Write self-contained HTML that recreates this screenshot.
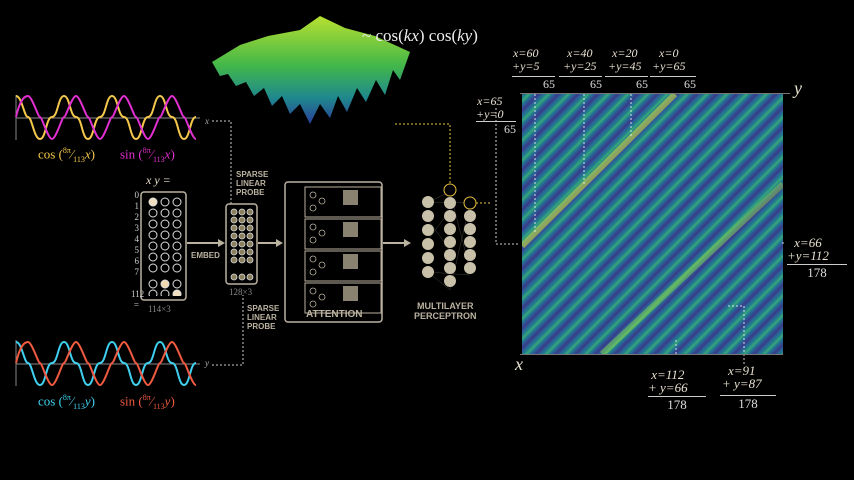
<!DOCTYPE html>
<html><head><meta charset="utf-8"><style>
body{margin:0;background:#000;width:854px;height:480px;overflow:hidden;position:relative;font-family:"Liberation Serif",serif;color:#ddd}
.a{position:absolute}
.sf{font-family:"Liberation Sans",sans-serif;font-weight:bold;color:#bbb2a0;font-size:8px;line-height:9px}
.lab{font-size:12px;color:#e8e0d0;text-align:center;line-height:13px;font-style:italic}
.hm{left:522px;top:94px;width:261px;height:260px;background:repeating-linear-gradient(135deg,#2b5e96 0px,#21808d 3px,#3aa878 5px,#21808d 7px,#2b5e96 9px,#3a3a88 12px,#2b5e96 14px)}
</style></head><body>
<svg class="a" style="left:0;top:0" width="854" height="480">
<defs><linearGradient id="sg" x1="0" y1="0" x2="0" y2="1"><stop offset="0" stop-color="#b8e030"/><stop offset="0.45" stop-color="#44b848"/><stop offset="0.75" stop-color="#1f8a8c"/><stop offset="1" stop-color="#2a3f9a"/></linearGradient></defs>
<polygon points="212,62 240,45 268,36 300,30 320,16 345,28 375,36 410,52 400,80 393,70 385,95 376,80 366,102 357,88 347,112 338,96 330,118 320,104 310,124 300,104 290,114 282,96 272,106 264,88 254,96 246,82 236,86 228,74 220,76" fill="url(#sg)"/>
<line x1="16" y1="118" x2="200" y2="118" stroke="#888" stroke-width="1"/>
<line x1="16" y1="95" x2="16" y2="140" stroke="#888"/>
<path fill="none" stroke="#f4c84a" stroke-width="2" d="M16,96 C22,96 24,117 28,117 S34,139 40,139 S46,117 52,117 S58,96 64,96 S70,117 76,117 S82,139 88,139 S94,117 100,117 S106,96 112,96 S118,117 124,117 S130,139 136,139 S142,117 148,117 S154,96 160,96 S166,117 172,117 S178,139 184,139 S190,117 196,117"/>
<path fill="none" stroke="#e030d0" stroke-width="2" d="M16,117 C20,100 24,96 28,96 S38,117 40,117 S48,139 52,139 S62,117 64,117 S72,96 76,96 S86,117 88,117 S96,139 100,139 S110,117 112,117 S120,96 124,96 S134,117 136,117 S144,139 148,139 S158,117 160,117 S168,96 172,96 S182,117 184,117 S192,139 196,139"/>
<line x1="16" y1="364" x2="200" y2="364" stroke="#888"/>
<line x1="16" y1="340" x2="16" y2="386" stroke="#888"/>
<path fill="none" stroke="#40d0f0" stroke-width="2" d="M16,342 C22,342 24,363 28,363 S34,385 40,385 S46,363 52,363 S58,342 64,342 S70,363 76,363 S82,385 88,385 S94,363 100,363 S106,342 112,342 S118,363 124,363 S130,385 136,385 S142,363 148,363 S154,342 160,342 S166,363 172,363 S178,385 184,385 S190,363 196,363"/>
<path fill="none" stroke="#f05a40" stroke-width="2" d="M16,363 C20,346 24,342 28,342 S38,363 40,363 S48,385 52,385 S62,363 64,363 S72,342 76,342 S86,363 88,363 S96,385 100,385 S110,363 112,363 S120,342 124,342 S134,363 136,363 S144,385 148,385 S158,363 160,363 S168,342 172,342 S182,363 184,363 S192,385 196,385"/>
<path d="M212,121 H231 V205" fill="none" stroke="#ccc" stroke-dasharray="2,2"/>
<path d="M212,365 H243 V295" fill="none" stroke="#ccc" stroke-dasharray="2,2"/>
<path d="M395,124 H450 V185" fill="none" stroke="#e8c040" stroke-dasharray="2,2"/>
<path d="M496,108 V244 H520" fill="none" stroke="#ccc" stroke-dasharray="2,2"/>
<path d="M476,203 H490" fill="none" stroke="#e8c040" stroke-dasharray="2,2"/>
<rect x="141" y="192" width="45" height="108" rx="3" fill="none" stroke="#bbb2a0" stroke-width="1.5"/>
<rect x="226" y="204" width="31" height="80" rx="3" fill="none" stroke="#bbb2a0" stroke-width="1.5"/>
<rect x="285" y="182" width="97" height="140" rx="3" fill="none" stroke="#bbb2a0" stroke-width="1.5"/>
<g fill="none" stroke="#bbb2a0"><rect x="305" y="187" width="76" height="30"/><rect x="305" y="219" width="76" height="30"/><rect x="305" y="251" width="76" height="30"/><rect x="305" y="283" width="76" height="30"/></g>
<g fill="#8a8270"><rect x="343" y="190" width="15" height="15"/><rect x="343" y="222" width="15" height="15"/><rect x="343" y="254" width="15" height="15"/><rect x="343" y="286" width="15" height="15"/></g>
<g fill="none" stroke="#bbb2a0" stroke-width="0.8"><circle cx="313" cy="195" r="3"/><circle cx="322" cy="201" r="3"/><circle cx="313" cy="208" r="3"/><circle cx="313" cy="227" r="3"/><circle cx="322" cy="233" r="3"/><circle cx="313" cy="240" r="3"/><circle cx="313" cy="259" r="3"/><circle cx="322" cy="265" r="3"/><circle cx="313" cy="272" r="3"/><circle cx="313" cy="291" r="3"/><circle cx="322" cy="297" r="3"/><circle cx="313" cy="304" r="3"/></g>
<g stroke="#bbb2a0" stroke-width="2" fill="#bbb2a0"><line x1="187" y1="243" x2="220" y2="243"/><polygon points="225,243 218,239 218,247" stroke="none"/><line x1="258" y1="243" x2="278" y2="243"/><polygon points="283,243 276,239 276,247" stroke="none"/><line x1="383" y1="243" x2="406" y2="243"/><polygon points="411,243 404,239 404,247" stroke="none"/></g>
<g stroke="#bbb2a0" stroke-width="0.3" opacity="0.6">
<path d="M428,202 L450,192 M428,202 L470,203 M428,272 L450,290 M428,272 L470,275 M450,192 L470,270 M450,290 L470,203 M428,220 L450,250 M428,240 L450,210"/></g>
<g fill="#c8c0a8"><circle cx="428" cy="202" r="6"/><circle cx="428" cy="216" r="6"/><circle cx="428" cy="230" r="6"/><circle cx="428" cy="244" r="6"/><circle cx="428" cy="258" r="6"/><circle cx="428" cy="272" r="6"/>
<circle cx="450" cy="203" r="6"/><circle cx="450" cy="216" r="6"/><circle cx="450" cy="229" r="6"/><circle cx="450" cy="242" r="6"/><circle cx="450" cy="255" r="6"/><circle cx="450" cy="268" r="6"/><circle cx="450" cy="281" r="6"/>
<circle cx="470" cy="216" r="6"/><circle cx="470" cy="229" r="6"/><circle cx="470" cy="242" r="6"/><circle cx="470" cy="255" r="6"/><circle cx="470" cy="268" r="6"/></g>
<circle cx="450" cy="190" r="6" fill="#000" stroke="#e8c040"/><circle cx="470" cy="203" r="6" fill="#000" stroke="#e8c040"/>
</svg>
<div class="a" style="left:145px;top:196px;width:40px">
<svg width="40" height="100"><g fill="none" stroke="#ddd"><circle cx="8" cy="6" r="4" fill="#f0e0c0"/><circle cx="20" cy="6" r="4"/><circle cx="32" cy="6" r="4"/>
<circle cx="8" cy="17" r="4"/><circle cx="20" cy="17" r="4"/><circle cx="32" cy="17" r="4"/><circle cx="8" cy="28" r="4"/><circle cx="20" cy="28" r="4"/><circle cx="32" cy="28" r="4"/><circle cx="8" cy="39" r="4"/><circle cx="20" cy="39" r="4"/><circle cx="32" cy="39" r="4"/><circle cx="8" cy="50" r="4"/><circle cx="20" cy="50" r="4"/><circle cx="32" cy="50" r="4"/><circle cx="8" cy="61" r="4"/><circle cx="20" cy="61" r="4"/><circle cx="32" cy="61" r="4"/><circle cx="8" cy="72" r="4"/><circle cx="20" cy="72" r="4"/><circle cx="32" cy="72" r="4"/>
<circle cx="8" cy="88" r="4"/><circle cx="20" cy="88" r="4" fill="#f0d8b0"/><circle cx="32" cy="88" r="4"/><circle cx="8" cy="98" r="4"/><circle cx="20" cy="98" r="4"/><circle cx="32" cy="98" r="4" fill="#f0e0c0"/></g></svg></div>
<div class="a" style="left:229px;top:207px"><svg width="26" height="76"><g fill="#8a8060" stroke="#ddd" stroke-width="0.8"><circle cx="5" cy="5" r="3"/><circle cx="13" cy="5" r="3"/><circle cx="21" cy="5" r="3"/><circle cx="5" cy="13" r="3"/><circle cx="13" cy="13" r="3"/><circle cx="21" cy="13" r="3"/><circle cx="5" cy="21" r="3"/><circle cx="13" cy="21" r="3"/><circle cx="21" cy="21" r="3"/><circle cx="5" cy="29" r="3"/><circle cx="13" cy="29" r="3"/><circle cx="21" cy="29" r="3"/><circle cx="5" cy="37" r="3"/><circle cx="13" cy="37" r="3"/><circle cx="21" cy="37" r="3"/><circle cx="5" cy="45" r="3"/><circle cx="13" cy="45" r="3"/><circle cx="21" cy="45" r="3"/><circle cx="5" cy="53" r="3"/><circle cx="13" cy="53" r="3"/><circle cx="21" cy="53" r="3"/><circle cx="5" cy="70" r="3"/><circle cx="13" cy="70" r="3"/><circle cx="21" cy="70" r="3"/></g></svg></div>
<div class="a" style="left:131px;top:190px;font-size:9px;line-height:11px;color:#ccc;text-align:right;width:8px">0<br>1<br>2<br>3<br>4<br>5<br>6<br>7<br><br>112<br>=</div>
<div class="a lab" style="left:146px;top:174px">x y =</div>
<div class="a" style="left:148px;top:304px;font-size:9px;color:#888">114×3</div>
<div class="a" style="left:229px;top:287px;font-size:9px;color:#888">128×3</div>
<div class="a sf" style="left:236px;top:170px">SPARSE<br>LINEAR<br>PROBE</div>
<div class="a sf" style="left:247px;top:304px">SPARSE<br>LINEAR<br>PROBE</div>
<div class="a sf" style="left:191px;top:251px">EMBED</div>
<div class="a sf" style="left:306px;top:310px;font-size:10px">ATTENTION</div>
<div class="a sf" style="left:414px;top:301px;font-size:9px;text-align:center;line-height:10px">MULTILAYER<br>PERCEPTRON</div>
<div class="a" style="left:38px;top:146px;color:#f4c84a;font-size:13px">cos (<sup style="font-size:8px">8π</sup>⁄<sub style="font-size:8px">113</sub><i>x</i>)</div>
<div class="a" style="left:120px;top:146px;color:#e030d0;font-size:13px">sin (<sup style="font-size:8px">8π</sup>⁄<sub style="font-size:8px">113</sub><i>x</i>)</div>
<div class="a" style="left:38px;top:393px;color:#40d0f0;font-size:13px">cos (<sup style="font-size:8px">8π</sup>⁄<sub style="font-size:8px">113</sub><i>y</i>)</div>
<div class="a" style="left:120px;top:393px;color:#f05a40;font-size:13px">sin (<sup style="font-size:8px">8π</sup>⁄<sub style="font-size:8px">113</sub><i>y</i>)</div>
<div class="a" style="left:205px;top:116px;font-size:9px;font-style:italic;color:#aaa">x</div>
<div class="a" style="left:205px;top:358px;font-size:9px;font-style:italic;color:#aaa">y</div>
<div class="a" style="left:362px;top:26px;font-size:17px;color:#eee">~ cos(<i>kx</i>) cos(<i>ky</i>)</div>
<div class="a hm"></div>
<svg class="a" style="left:522px;top:94px" width="261" height="260">
<line x1="0" y1="152" x2="153" y2="0" stroke="#c8e040" stroke-width="6" opacity="0.6"/>
<line x1="80" y1="260" x2="261" y2="90" stroke="#9cd848" stroke-width="6" opacity="0.45"/>
<g stroke="#fff" stroke-dasharray="2,2" opacity="0.8"><line x1="13" y1="-40" x2="13" y2="140"/><line x1="62" y1="-40" x2="62" y2="90"/><line x1="109" y1="-40" x2="109" y2="43"/><line x1="153" y1="-20" x2="153" y2="0"/></g>
</svg>
<svg class="a" style="left:600px;top:240px" width="200" height="140"><g fill="none" stroke="#fff" stroke-dasharray="2,2" opacity="0.8"><path d="M128,66 H144 V125"/><path d="M76,100 V115"/><path d="M183,4 V0"/></g></svg>
<div class="a" style="left:520px;top:354px;width:263px;height:1px;background:#777"></div>
<div class="a" style="left:520px;top:93px;width:270px;height:1px;background:#777"></div>
<div class="a lab" style="left:794px;top:82px;font-size:18px">y</div>
<div class="a lab" style="left:515px;top:358px;font-size:18px">x</div>
<div class="a lab" style="left:512px;top:47px">x=60<br>+y=5</div>
<div class="a lab" style="left:563px;top:47px">x=40<br>+y=25</div>
<div class="a lab" style="left:608px;top:47px">x=20<br>+y=45</div>
<div class="a lab" style="left:652px;top:47px">x=0<br>+y=65</div>
<div class="a" style="left:512px;top:76px;width:43px;border-top:1px solid #ccc;font-size:12px;color:#ddd;text-align:right">65</div>
<div class="a" style="left:559px;top:76px;width:43px;border-top:1px solid #ccc;font-size:12px;color:#ddd;text-align:right">65</div>
<div class="a" style="left:605px;top:76px;width:43px;border-top:1px solid #ccc;font-size:12px;color:#ddd;text-align:right">65</div>
<div class="a" style="left:650px;top:76px;width:46px;border-top:1px solid #ccc;font-size:12px;color:#ddd;text-align:right">65</div>
<div class="a lab" style="left:476px;top:95px">x=65<br>+y=0</div>
<div class="a" style="left:476px;top:121px;width:40px;border-top:1px solid #ccc;font-size:12px;color:#ddd;text-align:right">65</div>
<div class="a lab" style="left:787px;top:236px;font-size:13px">x=66<br>+y=112</div>
<div class="a" style="left:787px;top:264px;width:60px;border-top:1px solid #ccc;font-size:13px;color:#ddd;text-align:center">178</div>
<div class="a lab" style="left:648px;top:368px;font-size:13px">x=112<br>+ y=66</div>
<div class="a" style="left:648px;top:396px;width:58px;border-top:1px solid #ccc;font-size:13px;color:#ddd;text-align:center">178</div>
<div class="a lab" style="left:722px;top:364px;font-size:13px">x=91<br>+ y=87</div>
<div class="a" style="left:720px;top:395px;width:56px;border-top:1px solid #ccc;font-size:13px;color:#ddd;text-align:center">178</div>
</body></html>
